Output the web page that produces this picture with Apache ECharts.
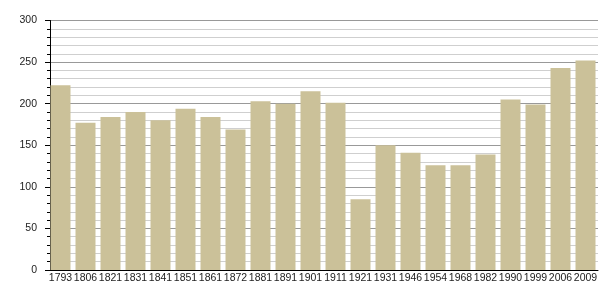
<!DOCTYPE html>
<html><head><meta charset="utf-8">
<script src="https://cdn.jsdelivr.net/npm/echarts@6/dist/echarts.min.js"></script>
<style>html,body{margin:0;padding:0;background:#fff}#c{width:605px;height:300px}</style>
</head><body><div id="c"></div>
<script>
var years = ['1793','1806','1821','1831','1841','1851','1861','1872','1881','1891','1901','1911','1921','1931','1946','1954','1968','1982','1990','1999','2006','2009'];
var population = [222,177,184,190,180,194,184,169,203,200,215,201,85,150,141,126,126,139,205,199,243,252];
var yTicks = [0,50,100,150,200,250,300];

var chart = echarts.init(document.getElementById('c'));
chart.setOption({
  animation:false,
  grid:{left:48,right:7,top:20.5,bottom:30,containLabel:false},
  xAxis:{type:'category',data:years,
    axisLine:{lineStyle:{color:'#000',width:1}},
    axisTick:{show:false},
    axisLabel:{color:'#222',fontFamily:'Liberation Sans',fontSize:10.5,margin:3,interval:0}},
  yAxis:{type:'value',min:yTicks[0],max:yTicks[yTicks.length-1],interval:50,offset:-2,
    axisLine:{show:true,lineStyle:{color:'#000',width:1}},
    axisTick:{show:true,length:5,lineStyle:{color:'#000'}},
    minorTick:{show:true,splitNumber:5,length:3,lineStyle:{color:'#000'}},
    splitLine:{show:true,lineStyle:{color:'#999',width:1}},
    minorSplitLine:{show:true,lineStyle:{color:'#cfcfcf',width:1}},
    axisLabel:{color:'#222',fontFamily:'Liberation Sans',fontSize:10.5,margin:13}},
  series:[{type:'bar',data:population,barCategoryGap:'20%',
    itemStyle:{color:'#cbc199'}}]
});
</script></body></html>
